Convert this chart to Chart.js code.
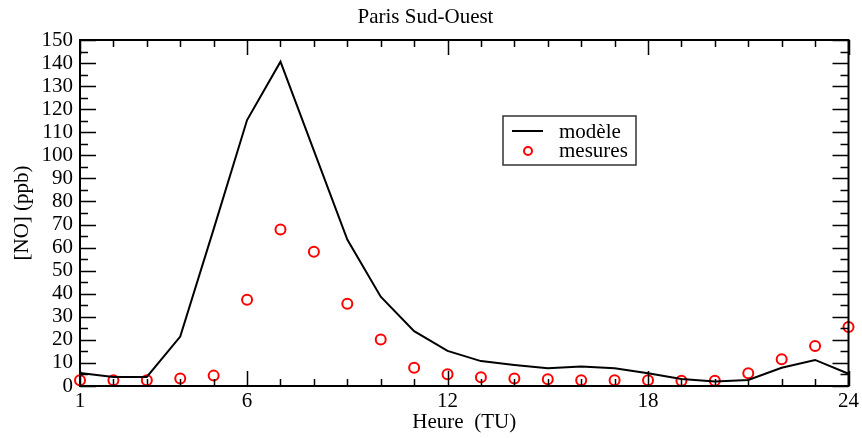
<!DOCTYPE html>
<html>
<head>
<meta charset="utf-8">
<script src="https://cdn.jsdelivr.net/npm/chart.js@4/dist/chart.umd.min.js"></script>
<style>
html,body{margin:0;padding:0;background:#fff;}
#wrap{width:862px;height:438px;position:relative;}
</style>
</head>
<body>
<div id="wrap"><canvas id="c" width="862" height="438"></canvas></div>
<script>
const hours = [1,2,3,4,5,6,7,8,9,10,11,12,13,14,15,16,17,18,19,20,21,22,23,24];
const modele = [5.6,3.9,3.9,21.4,68,115.3,140.6,102,63.5,38.7,23.8,15.2,10.8,9.1,7.7,8.4,7.7,5.5,3.0,1.9,2.6,7.9,11.3,5.3];
const mesures = [2.5,2.5,2.5,3.3,4.5,37.4,67.8,58.2,35.7,20.2,7.9,5.1,3.8,3.3,2.9,2.5,2.5,2.5,2.3,2.3,5.5,11.6,17.3,25.6];
const xMajorTicks = [1,6,12,18,24];
const titleText = 'Paris Sud-Ouest';
const xTitle = 'Heure  (TU)';
const yTitle = '[NO] (ppb)';
const seriesNames = ['modèle','mesures'];

const FONT = "'Liberation Serif', 'Times New Roman', serif";

const framePlugin = {
  id: 'frame',
  afterDatasetsDraw(chart) {
    const {ctx, chartArea: a, scales: {x, y}} = chart;
    ctx.save();
    ctx.strokeStyle = '#000';
    ctx.lineWidth = 2;
    ctx.strokeRect(a.left, a.top, a.right - a.left, a.bottom - a.top);
    ctx.lineWidth = 1.5;
    ctx.beginPath();
    for (let v = x.min; v <= x.max; v++) {
      const px = Math.round(x.getPixelForValue(v)) + 0.5;
      const L = xMajorTicks.includes(v) ? 15 : 7;
      ctx.moveTo(px, a.bottom); ctx.lineTo(px, a.bottom - L);
      ctx.moveTo(px, a.top); ctx.lineTo(px, a.top + L);
    }
    for (let v = y.min; v <= y.max; v += 5) {
      const py = Math.round(y.getPixelForValue(v)) + 0.5;
      const L = (v % 10 === 0) ? 16 : 8;
      ctx.moveTo(a.left, py); ctx.lineTo(a.left + L, py);
      ctx.moveTo(a.right, py); ctx.lineTo(a.right - L, py);
    }
    ctx.stroke();
    // legend
    const bx = 503, by = 116, bw = 133, bh = 49;
    ctx.lineWidth = 1.5;
    ctx.strokeStyle = '#333';
    ctx.fillStyle = '#fff';
    ctx.fillRect(bx, by, bw, bh);
    ctx.strokeRect(bx, by, bw, bh);
    ctx.strokeStyle = '#000';
    ctx.lineWidth = 2;
    ctx.beginPath(); ctx.moveTo(512, 131); ctx.lineTo(543, 131); ctx.stroke();
    ctx.strokeStyle = '#ff0000';
    ctx.beginPath(); ctx.arc(528, 151, 4, 0, Math.PI * 2); ctx.stroke();
    ctx.fillStyle = '#000';
    ctx.font = "21px " + FONT;
    ctx.textBaseline = 'middle';
    ctx.textAlign = 'left';
    ctx.fillText(chart.data.datasets[0].label, 559, 132);
    ctx.fillText(chart.data.datasets[1].label, 559, 151);
    ctx.restore();
  }
};

new Chart(document.getElementById('c'), {
  type: 'line',
  data: {
    labels: hours,
    datasets: [
      {
        label: seriesNames[0],
        data: hours.map((h, i) => ({x: h, y: modele[i]})),
        borderColor: '#000',
        borderWidth: 2,
        pointRadius: 0,
        fill: false,
        tension: 0
      },
      {
        label: seriesNames[1],
        data: hours.map((h, i) => ({x: h, y: mesures[i]})),
        showLine: false,
        borderColor: '#ff0000',
        backgroundColor: 'rgba(0,0,0,0)',
        pointRadius: 5,
        pointBorderWidth: 2,
        pointBorderColor: '#ff0000',
        pointBackgroundColor: 'rgba(0,0,0,0)'
      }
    ]
  },
  options: {
    responsive: false,
    animation: false,
    clip: false,
    layout: {padding: {left: 0, right: 11, top: 0, bottom: 0}},
    plugins: {
      legend: {display: false},
      tooltip: {enabled: false},
      title: {
        display: true,
        text: titleText,
        color: '#000',
        font: {family: FONT, size: 21, weight: 'normal'},
        padding: {top: 5, bottom: 9.8}
      }
    },
    scales: {
      x: {
        type: 'linear',
        min: 1, max: 24,
        afterBuildTicks: s => { s.ticks = xMajorTicks.map(v => ({value: v})); },
        afterFit: s => { s.height = 52; },
        grid: {display: false, drawTicks: false},
        border: {display: false},
        ticks: {color: '#000', font: {family: FONT, size: 21}, padding: 3, maxRotation: 0, autoSkip: false},
        title: {display: true, text: xTitle, color: '#000', font: {family: FONT, size: 21}, padding: {top: 3.4, bottom: 3.4}}
      },
      y: {
        min: 0, max: 150,
        afterFit: s => { s.width = 80; },
        grid: {display: false, drawTicks: false},
        border: {display: false},
        ticks: {stepSize: 10, autoSkip: false, color: '#000', font: {family: FONT, size: 21}, padding: 7},
        title: {display: true, text: yTitle, color: '#000', font: {family: FONT, size: 21}, padding: {top: 10, bottom: 0}}
      }
    }
  },
  plugins: [framePlugin]
});
</script>
</body>
</html>
